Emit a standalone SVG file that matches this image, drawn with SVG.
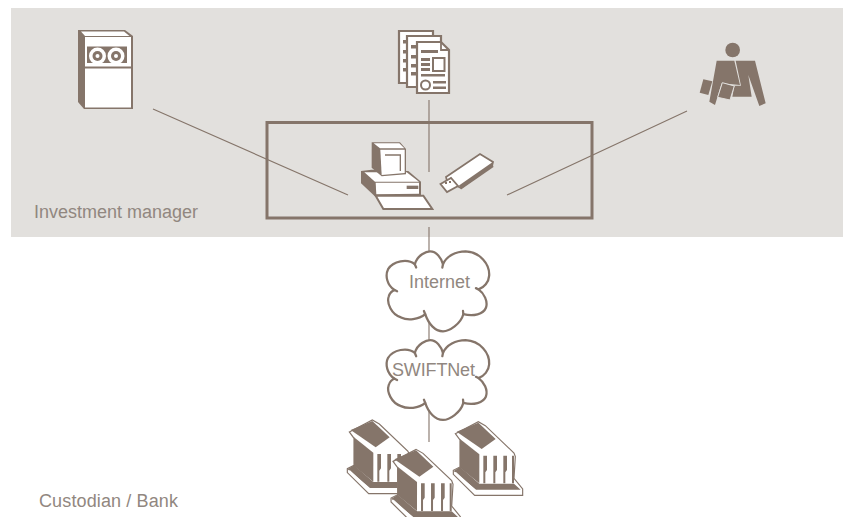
<svg xmlns="http://www.w3.org/2000/svg" xmlns:xlink="http://www.w3.org/1999/xlink" width="848" height="517" viewBox="0 0 848 517">
<style>
.b{fill:#85756a}
.w{fill:#fff}
.o{fill:#fff;stroke:#85756a;stroke-width:2.2;stroke-linejoin:miter}
.l{fill:none;stroke:#85756a;stroke-width:1.1}
.t{font-family:"Liberation Sans",Arial,sans-serif;font-size:18px;fill:#918780}
.k{fill:none;stroke:#85756a;stroke-width:7;stroke-linecap:round}
</style>
<defs>
<g id="bank">
<path d="M16,56 85,20 106,32 192,114 196,125 192,190 218,222 218,241 74,241 10,178 10,166 30,156 30,75Z" fill="#fff" stroke="#85756a" stroke-width="3.500"/>
<path class="b" d="M20,50 85,23 137,72 95,102Z"/>
<path class="b" d="M30,72 88,118 88,205 30,158Z"/>
<path class="b" d="M100,122H111V165L106,172V205H100ZM130,122H141V165L136,172V205H130ZM160,122H171V165L166,172V205H160ZM186,122H192V205H186Z"/>
<path class="b" d="M11,168 30,156 88,206 192,206 212,224 78,224Z"/>
<path class="w" d="M18,171 78,226 210,226 214,230 76,231 14,172Z"/>
</g>
<g id="cloud">
<path d="M108,50C115,20 145,10 155,10C175,10 190,30 195,50C205,25 235,10 265,10C310,12 340,50 338,85C337,105 322,122 305,128C322,140 335,165 328,185C320,205 290,213 258,205C250,235 215,258 195,258C170,258 150,235 140,205C120,222 85,225 65,215C35,205 20,170 27,150C30,140 38,132 45,130C22,115 15,85 25,65C40,40 85,30 108,50Z" fill="#fff" stroke="#85756a" stroke-width="7" stroke-linejoin="round"/>
<path class="k" d="M108,50L112,60M195,50L193,60M305,128L297,124M258,205L257,195M140,205L136,195M45,130L53,134"/>
</g>
</defs>
<rect x="11" y="8" width="832" height="229" fill="#e2e0dd"/>
<g id="connectors">
<path class="l" d="M153,109 348,195M429,100V172M687,111 507,195M429,227V442"/>
</g>
<g id="investment-manager">
<rect x="267" y="122.500" width="325" height="95.500" fill="none" stroke="#85756a" stroke-width="3"/>
<text class="t" x="34" y="218">Investment manager</text>
</g>
<g id="server">
<path class="b" d="M78,30H125L133,36V109H84L78,102Z"/>
<path class="w" d="M81,31.500H124L129.500,36H85Z"/>
<path class="w" d="M85,37H131V107.500H85Z"/>
<path class="b" d="M87,46.500H127V63H87ZM85,66.500H131V68.500H85Z"/>
<circle cx="97.500" cy="56" r="8.500" class="w"/><circle cx="97.500" cy="56" r="5" class="b"/><circle cx="97.500" cy="56" r="2" class="w"/>
<circle cx="116" cy="56" r="8.500" class="w"/><circle cx="116" cy="56" r="5" class="b"/><circle cx="116" cy="56" r="2" class="w"/>
</g>
<g id="documents">
<path class="o" d="M399,31H433V83H399Z"/>
<path class="b" d="M403,40H409V43.500H403ZM403,50H409V53.500H403ZM403,59H409V62.500H403ZM403,68H409V71.500H403Z"/>
<path class="o" d="M407,36H441V87H407Z"/>
<path class="b" d="M411,45H417V48.500H411ZM411,55H417V58.500H411ZM411,64H417V67.500H411ZM411,72H417V75.500H411Z"/>
<path class="o" d="M417,42H441L449,50V93H417Z"/>
<path d="M441,42V50H449" fill="none" stroke="#85756a" stroke-width="1.800"/>
<path class="b" d="M421,50H438V53H421ZM421,58H430V61H421ZM421,63H430V66H421ZM421,68H430V71H421ZM421,74H445V76.500H421ZM433,81H446V83.500H433ZM433,86.500H446V89H433Z"/>
<rect x="433" y="58" width="11.500" height="13" fill="#fff" stroke="#85756a" stroke-width="2"/>
<circle cx="425.500" cy="85" r="4.500" fill="#fff" stroke="#85756a" stroke-width="2"/>
</g>
<g id="person" transform="translate(695,40) scale(.3333)">
<circle cx="113" cy="30" r="22" class="b"/>
<path class="b" d="M65,62H118L135,135 80,130 60,195 43,185Z"/>
<path class="b" d="M122,62H180L212,190 193,198 160,105 170,170 112,170 118,137H138Z"/>
<path class="b" d="M25,118 52,124 40,165 14,158Z"/>
<path class="b" d="M82,128 118,138 105,180 68,172Z" stroke="#e2e0dd" stroke-width="3"/>
</g>
<g id="computer" transform="translate(355,135) scale(.3333)">
<path class="b" d="M18,108 50,104 160,108 198,140 198,180 62,186 18,145Z"/>
<path class="w" d="M28,112H155L192,140H60Z"/>
<path class="w" d="M62,143H192V176L64,178Z"/>
<path class="b" d="M155,152H190V162H155Z"/>
<path class="b" d="M50,22H135L153,42V118L80,124 50,98Z"/>
<path class="w" d="M56,25H133L148,40H75Z"/>
<path class="w" d="M76,44H149V114L80,120Z"/>
<path d="M90,60H136V108" fill="none" stroke="#85756a" stroke-width="4"/>
<path d="M62,182H205L232,222H85Z" fill="#fff" stroke="#85756a" stroke-width="6"/>
</g>
<g id="usb">
<path d="M446,177 480,154 493,162 492,166 461,188 447,181Z" fill="#fff" stroke="#85756a" stroke-width="1.800"/>
<path class="b" d="M459,185.500 492,162.500 493.500,167 461,189.500Z"/>
<path d="M440.500,184 451,178 458,186 447,192Z" fill="#fff" stroke="#85756a" stroke-width="1.800"/>
<path class="b" d="M445,182h2v2h-2zM449,181h2v2h-2z"/>
</g>
<g id="internet">
<use xlink:href="#cloud" href="#cloud" transform="translate(380,248.200) scale(.323,.322)"/>
<text class="t" x="409" y="288">Internet</text>
</g>
<g id="swiftnet">
<use xlink:href="#cloud" href="#cloud" transform="translate(380,336.900) scale(.323,.322)"/>
<text class="t" x="392" y="376" textLength="83" lengthAdjust="spacing">SWIFTNet</text>
</g>
<g id="custodian-bank">
<use xlink:href="#bank" href="#bank" transform="translate(344,413.300) scale(.3333)"/>
<use xlink:href="#bank" href="#bank" transform="translate(450,415) scale(.3333)"/>
<use xlink:href="#bank" href="#bank" transform="translate(387.700,442.700) scale(.3333)"/>
<text class="t" x="39" y="507" textLength="139" lengthAdjust="spacing">Custodian / Bank</text>
</g>
</svg>
